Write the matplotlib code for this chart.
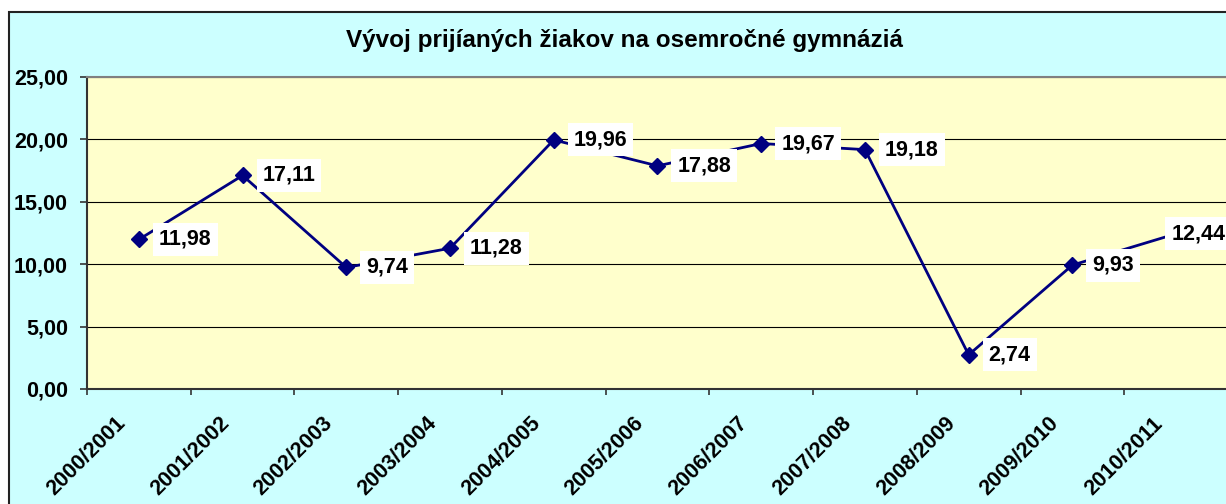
import numpy as np
import matplotlib.pyplot as plt
from matplotlib.patches import Rectangle
from matplotlib.transforms import ScaledTranslation

plt.rcParams['font.family'] = ['Liberation Sans', 'DejaVu Sans']
plt.rcParams['font.weight'] = 'bold'

# data
title = 'Vývoj prijíaných žiakov na osemročné gymnáziá'
years = ['2000/2001', '2001/2002', '2002/2003', '2003/2004', '2004/2005', '2005/2006',
         '2006/2007', '2007/2008', '2008/2009', '2009/2010', '2010/2011']
values = [11.98, 17.11, 9.74, 11.28, 19.96, 17.88, 19.67, 19.18, 2.74, 9.93, 12.44]
yticks = [0, 5, 10, 15, 20, 25]

W, H = 1226, 504
fig = plt.figure(figsize=(W / 100, H / 100), dpi=100)
fig.patch.set_facecolor('white')

# chart area (cut off on the right and bottom like the original)
fig.add_artist(Rectangle((9 / W, -0.1), 1.2, 1 - 12 / H + 0.1, transform=fig.transFigure,
                         facecolor='#CCFFFF', edgecolor='#222222', lw=1.5, zorder=0))

ax = fig.add_axes([87 / W, 1 - 389 / H, (1228 - 87) / W, (389 - 77) / H])
ax.set_facecolor('#FFFFCC')

x = np.arange(len(years)) + 0.5
ax.plot(x, values, color='#000080', lw=2, marker='D', ms=8.5, zorder=3, clip_on=False)

for i, (xi, v) in enumerate(zip(x, values)):
    # the last label is pushed left to stay inside the chart, over its marker
    dx = 14.4 if i < len(values) - 1 else -3.6
    ax.annotate(f'{v:.2f}'.replace('.', ','), (xi, v), xytext=(dx, 0),
                textcoords='offset points', ha='left', va='center',
                fontsize=15.5, fontweight='bold',
                bbox=dict(boxstyle='square,pad=0.28', fc='white', ec='none'),
                zorder=5, annotation_clip=False)

ax.set_xlim(0, len(years))
ax.set_ylim(0, 25)

ax.set_yticks(yticks)
ax.set_yticklabels([f'{t:.2f}'.replace('.', ',') for t in yticks])
ax.tick_params(axis='y', direction='out', length=5, width=1.2, pad=8.6,
               labelsize=15.5, color='#333333')
ax.yaxis.grid(True, color='black', lw=0.8)
ax.set_axisbelow(True)

ax.set_xticks([])
ax.set_xticks(np.arange(len(years) + 1), minor=True)
ax.tick_params(axis='x', which='minor', direction='out', length=4.5, width=1.2,
               color='#333333')

shift = ScaledTranslation(-17.3 / 72, -17.2 / 72, fig.dpi_scale_trans)
for xi, yr in zip(x, years):
    ax.text(xi, 0, yr, transform=ax.get_xaxis_transform() + shift, rotation=45,
            rotation_mode='anchor', ha='right', va='top', fontsize=15.5,
            fontweight='bold', clip_on=False)

for s in ['left', 'bottom']:
    ax.spines[s].set_color('#333333')
    ax.spines[s].set_linewidth(1.5)
for s in ['top', 'right']:
    ax.spines[s].set_color('#808080')
    ax.spines[s].set_linewidth(1.5)

fig.text(624.5 / W, 1 - 47 / H, title, ha='center', va='baseline',
         fontsize=17.5, fontweight='bold')

fig.savefig('out.png', dpi=100)
